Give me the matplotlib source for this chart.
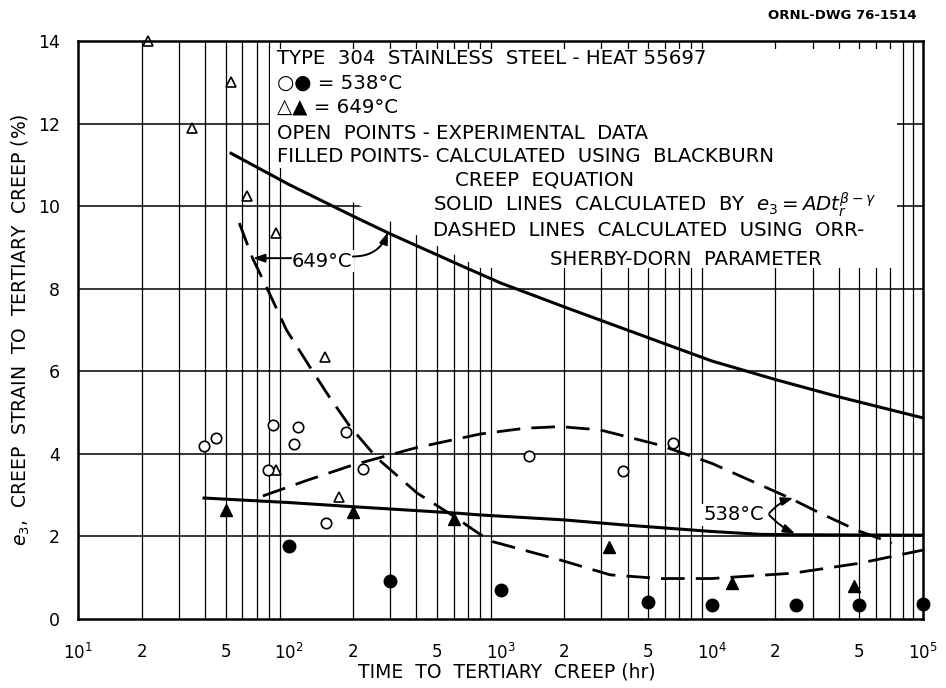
import numpy as np
import matplotlib
matplotlib.use('Agg')
import matplotlib.pyplot as plt
from matplotlib.patches import Polygon

plt.rcParams['font.family'] = 'DejaVu Sans'
plt.rcParams['mathtext.fontset'] = 'dejavusans'

# experimental points (open), 649 C and 538 C
open_tri_t = [21.4, 34.7, 53, 63, 86.5, 148, 86.5, 172]
open_tri_e = [14.0, 11.9, 13.0, 10.25, 9.35, 6.35, 3.62, 2.95]
open_circ_t = [39.5, 45, 79.3, 83.8, 105, 110, 149, 186, 223, 1365, 3800, 6560]
open_circ_e = [4.2, 4.38, 3.62, 4.7, 4.24, 4.65, 2.33, 4.53, 3.63, 3.95, 3.58, 4.26]

# Blackburn creep equation points (filled)
filled_tri_t = [50, 200, 600, 3270, 12500, 47000]
filled_tri_e = [2.65, 2.58, 2.42, 1.75, 0.88, 0.79]
filled_circ_t = [100, 300, 1000, 5000, 10000, 25000, 50000, 100000]
filled_circ_e = [1.78, 0.92, 0.70, 0.40, 0.35, 0.35, 0.35, 0.37]

# e3 = A D t_r^(beta-gamma) curves
solid649_t = [53, 100, 200, 300, 650, 1000, 2000, 6500, 1e4, 2e4, 4e4, 1e5]
solid649_e = [11.28, 10.52, 9.76, 9.33, 8.56, 8.14, 7.56, 6.6, 6.25, 5.8, 5.38, 4.87]
solid538_t = [39.5, 100, 200, 600, 800, 2000, 3800, 1e4, 1.7e4, 2.5e4, 1e5]
solid538_e = [2.93, 2.82, 2.72, 2.57, 2.52, 2.40, 2.28, 2.12, 2.05, 2.04, 2.03]

# Orr-Sherby-Dorn curves
dash649_t = [58, 67, 78, 97, 125, 156, 194, 260, 403, 596, 800, 923, 1914, 3300, 5690, 1e4, 24300, 5e4, 1e5]
dash649_e = [9.59, 8.74, 8.04, 7.0, 6.11, 5.35, 4.66, 3.90, 3.05, 2.5, 2.05, 1.87, 1.43, 1.07, 0.98, 0.98, 1.11, 1.35, 1.67]
dash538_t = [75, 120, 200, 400, 800, 1300, 1914, 2960, 5690, 1e4, 23400, 31800, 48600, 71300]
dash538_e = [2.98, 3.35, 3.73, 4.15, 4.48, 4.62, 4.66, 4.58, 4.21, 3.77, 2.93, 2.59, 2.15, 1.84]

xticks = [10, 20, 50, 100, 200, 500, 1000, 2000, 5000, 1e4, 2e4, 5e4, 1e5]
xticklabels = ['10$^1$', '2', '5', '10$^2$', '2', '5', '10$^3$', '2', '5', '10$^4$', '2', '5', '10$^5$']
yticks = [0, 2, 4, 6, 8, 10, 12, 14]

fig = plt.figure(figsize=(9.46, 6.88), dpi=100)
ax = fig.add_axes([0.0825, 0.1003, 0.8932, 0.8401])
ax.set_xscale('log')
ax.set_xlim(10, 1e5)
ax.set_ylim(0, 14)

# log grid: every minor decade line, horizontal every 2 %
grid_x = [m * 10 ** d for d in range(1, 5) for m in range(2, 10)]
for gx in grid_x:
	ax.axvline(gx, color='black', lw=0.9, zorder=1)
for gy in yticks[1:-1]:
	ax.axhline(gy, color='black', lw=1.1, zorder=1)

# blank area behind the notes
mask = Polygon([(0.2272, 0.9862), (0.9692, 0.9862), (0.9692, 0.6073), (0.4757, 0.6073),
		(0.2473, 0.7803), (0.2272, 0.7803)], closed=True, transform=ax.transAxes,
		facecolor='white', edgecolor='none', zorder=2)
ax.add_patch(mask)

lw = 2.2
ax.plot(solid649_t, solid649_e, color='black', lw=lw, zorder=4)
ax.plot(solid538_t, solid538_e, color='black', lw=lw, zorder=4)
ax.plot(dash649_t, dash649_e, color='black', lw=2.0, dashes=(8.5, 4), zorder=4)
ax.plot(dash538_t, dash538_e, color='black', lw=2.0, dashes=(8.5, 4), zorder=4)

ax.plot(open_tri_t, open_tri_e, ls='none', marker='^', ms=7.5, mfc='white', mec='black', mew=1.2, zorder=5, clip_on=False)
ax.plot(open_circ_t, open_circ_e, ls='none', marker='o', ms=7.5, mfc='white', mec='black', mew=1.2, zorder=5)
ax.plot(filled_tri_t, filled_tri_e, ls='none', marker='^', ms=9, color='black', zorder=5)
ax.plot(filled_circ_t, filled_circ_e, ls='none', marker='o', ms=9, color='black', zorder=5, clip_on=False)

ax.set_xticks(xticks)
ax.set_xticklabels(xticklabels)
ax.xaxis.set_minor_locator(matplotlib.ticker.NullLocator())
ax.set_yticks(yticks)
ax.tick_params(axis='x', length=0, pad=17, labelsize=12)
ax.tick_params(axis='y', length=0, pad=13, labelsize=12.5)
for s in ax.spines.values():
	s.set_linewidth(1.8)
	s.set_zorder(6)

ax.set_xlabel('TIME  TO  TERTIARY  CREEP (hr)', fontsize=13.5)
ax.xaxis.set_label_coords(0.508, -0.076)
ax.set_ylabel('$e_3$,  CREEP  STRAIN  TO  TERTIARY  CREEP (%)', fontsize=13.5)
ax.yaxis.set_label_coords(-0.055, 0.5)

notes = [
	(0.2355, 0.9689, 'TYPE  304  STAINLESS  STEEL - HEAT 55697'),
	(0.2355, 0.9273, '\u25cb\u25cf = 538\u00b0C'),
	(0.2355, 0.8858, '\u25b3\u25b2 = 649\u00b0C'),
	(0.2355, 0.8408, 'OPEN  POINTS - EXPERIMENTAL  DATA'),
	(0.2355, 0.8010, 'FILLED POINTS- CALCULATED  USING  BLACKBURN'),
	(0.4462, 0.7595, 'CREEP  EQUATION'),
	(0.4201, 0.7163, r'SOLID  LINES  CALCULATED  BY  $e_3 = ADt_r^{\beta - \gamma}$'),
	(0.4201, 0.6730, 'DASHED  LINES  CALCULATED  USING  ORR-'),
	(0.5586, 0.6228, 'SHERBY-DORN  PARAMETER'),
]
for nx, ny, s in notes:
	ax.text(nx, ny, s, transform=ax.transAxes, ha='left', va='center', fontsize=14.2, zorder=7)

# temperature callouts
arrow = dict(arrowstyle='-|>,head_length=0.7,head_width=0.25', color='black', lw=1.4, shrinkA=0, shrinkB=0)
ax.text(142, 8.67, '649\u00b0C', ha='center', va='center', fontsize=14, zorder=7,
		bbox=dict(boxstyle='square,pad=0.1', fc='white', ec='none'))
ax.annotate('', xy=(67.3, 8.74), xytext=(102, 8.74), arrowprops=arrow, zorder=7)
ax.annotate('', xy=(293, 9.37), xytext=(200, 8.78),
		arrowprops=dict(arrow, connectionstyle='arc3,rad=0.35'), zorder=7)
ax.text(12700, 2.52, '538\u00b0C', ha='center', va='center', fontsize=14, zorder=7,
		bbox=dict(boxstyle='square,pad=0.1', fc='white', ec='none'))
ax.annotate('', xy=(24300, 2.93), xytext=(18700, 2.56),
		arrowprops=dict(arrow, connectionstyle='arc3,rad=-0.15'), zorder=7)
ax.annotate('', xy=(24800, 2.07), xytext=(18700, 2.52),
		arrowprops=dict(arrow, connectionstyle='arc3,rad=0.1'), zorder=7)

fig.text(0.969, 0.977, 'ORNL-DWG 76-1514', ha='right', va='center', fontsize=9.5, fontweight='bold')

fig.savefig('out.png', dpi=100)
